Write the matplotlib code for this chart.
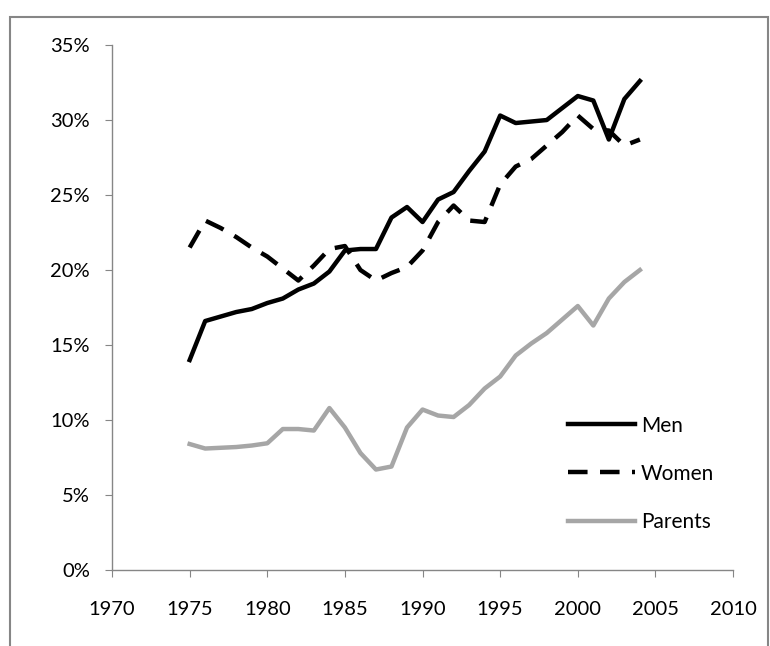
import matplotlib
matplotlib.use("Agg")
import matplotlib.pyplot as plt
from matplotlib.patches import Rectangle

# values (percent)
years = list(range(1975, 2005))
men = [14.0, 16.6, 16.9, 17.2, 17.4, 17.8, 18.1, 18.7, 19.1, 19.9,
       21.3, 21.4, 21.4, 23.5, 24.2, 23.2, 24.7, 25.2, 26.6, 27.9,
       30.3, 29.8, 29.9, 30.0, 30.8, 31.6, 31.3, 28.7, 31.4, 32.6]
women = [21.5, 23.3, 22.8, 22.2, 21.5, 20.9, 20.1, 19.3, 20.3, 21.4,
         21.6, 20.0, 19.3, 19.8, 20.2, 21.3, 23.2, 24.3, 23.3, 23.2,
         25.7, 26.9, 27.4, 28.3, 29.2, 30.3, 29.4, 29.3, 28.3, 28.7]
parents = [8.4, 8.1, 8.15, 8.2, 8.3, 8.45, 9.4, 9.4, 9.3, 10.8,
           9.5, 7.8, 6.7, 6.9, 9.5, 10.7, 10.3, 10.2, 11.0, 12.1,
           12.9, 14.3, 15.1, 15.8, 16.7, 17.6, 16.3, 18.1, 19.2, 20.0]
x_ticks = list(range(1970, 2011, 5))
y_ticks = list(range(0, 36, 5))

plt.rcParams['font.family'] = ['Lato', 'DejaVu Sans']

fig = plt.figure(figsize=(7.7, 6.46), dpi=100)
ax = fig.add_axes([0.1455, 0.1176, 0.8065, 0.8127])

# outer frame like the spreadsheet chart area
fig.patches.append(Rectangle((0.013, -0.05), 0.984, 1.024, transform=fig.transFigure,
                             fill=False, edgecolor="#868686", linewidth=1.5))

ax.plot(years, men, color="black", linewidth=3.2, label="Men")
ax.plot(years, women, color="black", linewidth=3.2, dashes=(4.4, 2.8), label="Women")
ax.plot(years, parents, color="#a6a6a6", linewidth=3.2, label="Parents")

ax.set_xlim(1970, 2010)
ax.set_ylim(0, 35)
ax.set_xticks(x_ticks)
ax.set_yticks(y_ticks)
ax.set_yticklabels([f"{v}%" for v in y_ticks])

for s in ["top", "right"]:
    ax.spines[s].set_visible(False)
for s in ["left", "bottom"]:
    ax.spines[s].set_color("#868686")
    ax.spines[s].set_linewidth(1.0)

ax.tick_params(axis="both", colors="#868686", length=5, labelsize=14.5, labelcolor="black")
ax.tick_params(axis="x", pad=17)
ax.tick_params(axis="y", pad=11)

ax.legend(loc="lower right", bbox_to_anchor=(1.0, 0.037), frameon=False, fontsize=15,
          handlelength=3.2, labelspacing=1.35, handletextpad=0.3)

fig.savefig("out.png", dpi=100)
